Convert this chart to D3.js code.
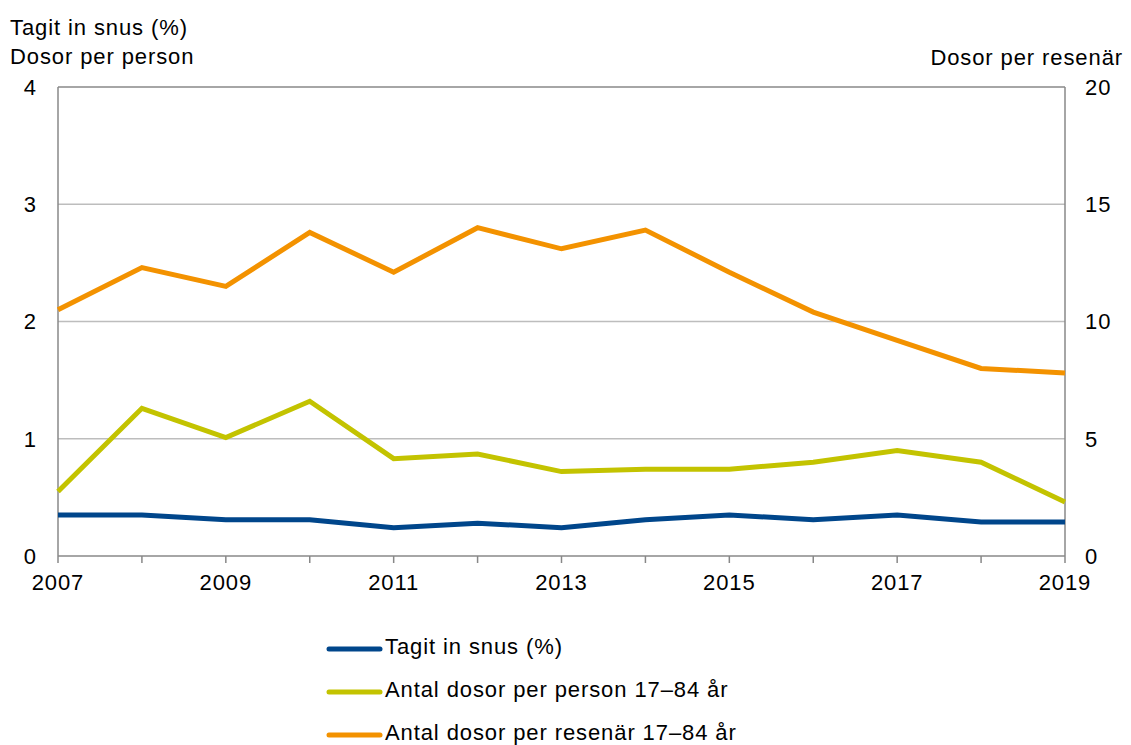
<!DOCTYPE html>
<html>
<head>
<meta charset="utf-8">
<script src="https://cdn.jsdelivr.net/npm/d3@7"></script>
<style>
  body { margin: 0; background: #fff; }
  text { font-family: "Liberation Sans", Arial, sans-serif; fill: #000; font-size: 22px; letter-spacing: 0.9px; }
</style>
</head>
<body>
<div id="chart"></div>
<script>
// data
const years = [2007, 2008, 2009, 2010, 2011, 2012, 2013, 2014, 2015, 2016, 2017, 2018, 2019];
const snusPct = [0.35, 0.35, 0.31, 0.31, 0.24, 0.28, 0.24, 0.31, 0.35, 0.31, 0.35, 0.29, 0.29];
const dosorPerson = [0.55, 1.26, 1.01, 1.32, 0.83, 0.87, 0.72, 0.74, 0.74, 0.8, 0.9, 0.8, 0.46];
const dosorResenar = [10.5, 12.3, 11.5, 13.8, 12.1, 14.0, 13.1, 13.9, 12.1, 10.4, 9.2, 8.0, 7.8];
const leftTicks = [0, 1, 2, 3, 4];
const rightTicks = [0, 5, 10, 15, 20];
const xLabels = [2007, 2009, 2011, 2013, 2015, 2017, 2019];

const seriesNames = ["Tagit in snus (%)", "Antal dosor per person 17–84 år", "Antal dosor per resenär 17–84 år"];
const seriesColors = ["#00468b", "#c3c300", "#f39200"];

let svg = d3.select("#chart").append("svg").attr("width", 1131).attr("height", 745);

let plotL = 58, plotR = 1065, plotT = 87, plotB = 556;

let x = d3.scaleLinear().domain([2007, 2019]).range([plotL, plotR]);
let yL = d3.scaleLinear().domain([0, 4]).range([plotB, plotT]);
let yR = d3.scaleLinear().domain([0, 20]).range([plotB, plotT]);

// gridlines
svg.append("g")
  .selectAll("line")
  .data(leftTicks.slice(1))
  .enter()
  .append("line")
  .attr("x1", plotL)
  .attr("x2", plotR)
  .attr("y1", (d) => yL(d))
  .attr("y2", (d) => yL(d))
  .attr("stroke", (d) => (d === 4 ? "#888" : "#bdbdbd"))
  .attr("stroke-width", 1.5);

// axis lines
svg.append("line").attr("x1", plotL).attr("x2", plotL).attr("y1", plotT).attr("y2", plotB)
  .attr("stroke", "#888").attr("stroke-width", 1.5);
svg.append("line").attr("x1", plotR).attr("x2", plotR).attr("y1", plotT).attr("y2", plotB)
  .attr("stroke", "#888").attr("stroke-width", 1.5);
svg.append("line").attr("x1", plotL).attr("x2", plotR).attr("y1", plotB).attr("y2", plotB)
  .attr("stroke", "#888").attr("stroke-width", 1.5);

// x ticks
svg.append("g")
  .selectAll("line")
  .data(years)
  .enter()
  .append("line")
  .attr("x1", (d) => x(d))
  .attr("x2", (d) => x(d))
  .attr("y1", plotB)
  .attr("y2", plotB + 7)
  .attr("stroke", "#888")
  .attr("stroke-width", 1.5);

svg.append("g")
  .selectAll("text")
  .data(xLabels)
  .enter()
  .append("text")
  .attr("x", (d) => x(d))
  .attr("y", 590)
  .attr("text-anchor", "middle")
  .text((d) => d);

// y tick labels
svg.append("g")
  .selectAll("text")
  .data(leftTicks)
  .enter()
  .append("text")
  .attr("x", 37)
  .attr("y", (d) => yL(d))
  .attr("dy", "0.36em")
  .attr("text-anchor", "end")
  .text((d) => d);

svg.append("g")
  .selectAll("text")
  .data(rightTicks)
  .enter()
  .append("text")
  .attr("x", 1085)
  .attr("y", (d) => yR(d))
  .attr("dy", "0.36em")
  .attr("text-anchor", "start")
  .text((d) => d);

// axis titles
svg.append("text").attr("x", 10).attr("y", 35).text("Tagit in snus (%)");
svg.append("text").attr("x", 10).attr("y", 64).text("Dosor per person");
svg.append("text").attr("x", 1123).attr("y", 65).attr("text-anchor", "end")
  .text("Dosor per resenär");

// lines
let lineL = d3.line().x((d, i) => x(years[i])).y((d) => yL(d));
let lineR = d3.line().x((d, i) => x(years[i])).y((d) => yR(d));

svg.append("path").datum(dosorResenar).attr("d", lineR)
  .attr("fill", "none").attr("stroke", seriesColors[2]).attr("stroke-width", 5);
svg.append("path").datum(dosorPerson).attr("d", lineL)
  .attr("fill", "none").attr("stroke", seriesColors[1]).attr("stroke-width", 5);
svg.append("path").datum(snusPct).attr("d", lineL)
  .attr("fill", "none").attr("stroke", seriesColors[0]).attr("stroke-width", 5);

// legend
let legend = svg.append("g")
  .selectAll("g")
  .data(seriesNames)
  .enter()
  .append("g")
  .attr("transform", (d, i) => "translate(0," + (649 + i * 43) + ")");

legend.append("line")
  .attr("x1", 329)
  .attr("x2", 380)
  .attr("stroke", (d, i) => seriesColors[i])
  .attr("stroke-width", 5)
  .attr("stroke-linecap", "round");

legend.append("text")
  .attr("x", 385)
  .attr("y", 5)
  .text((d) => d);
</script>
</body>
</html>
